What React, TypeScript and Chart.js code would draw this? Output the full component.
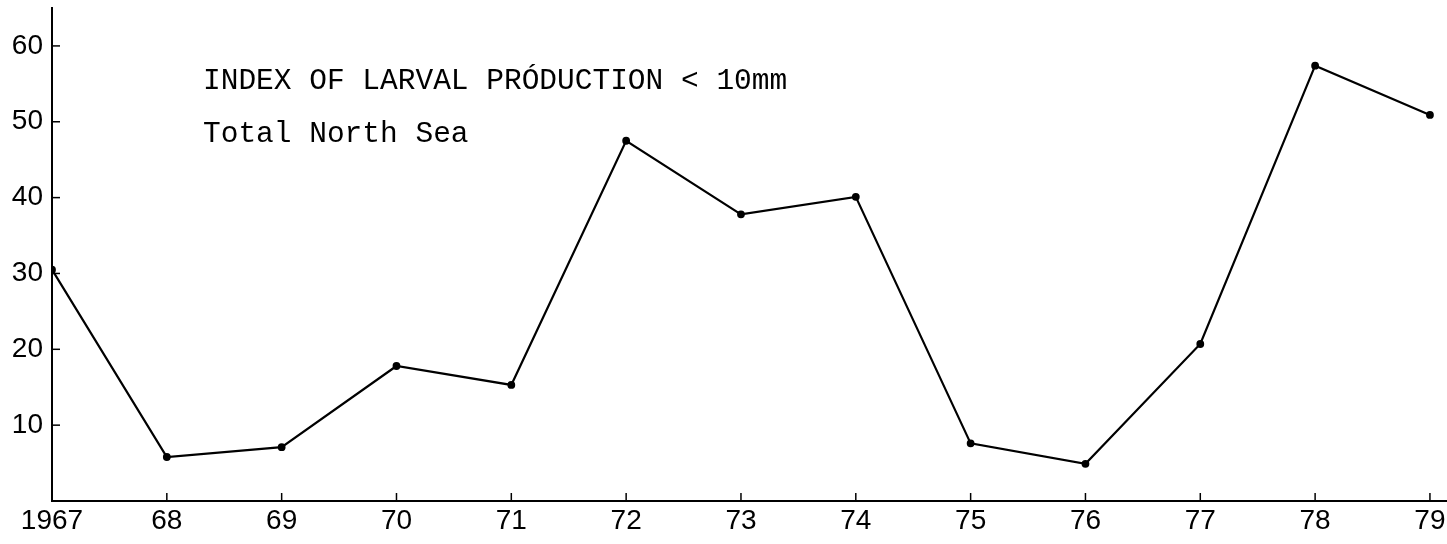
import React, { useEffect, useRef } from "react";
import { Chart, registerables } from "chart.js";

Chart.register(...registerables);

const years = [1967, 1968, 1969, 1970, 1971, 1972, 1973, 1974, 1975, 1976, 1977, 1978, 1979];
const larvalIndex = [30.5, 5.8, 7.1, 17.8, 15.3, 47.5, 37.8, 40.1, 7.6, 4.9, 20.7, 57.4, 50.9];
const xTickLabels = ["1967", "68", "69", "70", "71", "72", "73", "74", "75", "76", "77", "78", "79"];
const yTickValues = [10, 20, 30, 40, 50, 60];
const titleLines = ["INDEX OF LARVAL PRÓDUCTION < 10mm", "Total North Sea"];

const inwardTicks = {
  id: "inwardTicks",
  afterDraw(chart: any) {
    const { ctx, chartArea, scales } = chart;
    ctx.save();
    ctx.strokeStyle = "#000";
    // extend x axis line to the canvas edge
    const by = Math.round(scales.x.top);
    ctx.lineWidth = 2;
    ctx.beginPath();
    ctx.moveTo(chartArea.right - 2, by);
    ctx.lineTo(chart.width, by);
    ctx.stroke();
    ctx.lineWidth = 1.5;
    const y = scales.y;
    y.ticks.forEach((t: any) => {
      const py = y.getPixelForValue(t.value);
      ctx.beginPath();
      ctx.moveTo(chartArea.left, py);
      ctx.lineTo(chartArea.left + 8, py);
      ctx.stroke();
    });
    const x = scales.x;
    x.ticks.forEach((t: any) => {
      const px = x.getPixelForValue(t.value);
      ctx.beginPath();
      ctx.moveTo(px, chartArea.bottom);
      ctx.lineTo(px, chartArea.bottom - 8);
      ctx.stroke();
    });
    // annotation text inside the plot
    ctx.fillStyle = "#000";
    ctx.font = "29.5px 'Liberation Mono', monospace";
    ctx.textBaseline = "alphabetic";
    ctx.textAlign = "left";
    const tx = chartArea.left + 151;
    ctx.fillText(titleLines[0], tx, chartArea.top + 81);
    ctx.fillText(titleLines[1], tx, chartArea.top + 134);
    ctx.restore();
  },
};

export default function App() {
  const ref = useRef<HTMLCanvasElement | null>(null);
  useEffect(() => {
    if (!ref.current) return;
    const tickFont = { family: "'Liberation Sans', sans-serif", size: 28 };
    const chart = new Chart(ref.current, {
      type: "line",
      data: {
        datasets: [
          {
            data: years.map((yr, i) => ({ x: yr, y: larvalIndex[i] })),
            borderColor: "#000",
            backgroundColor: "#000",
            borderWidth: 2.2,
            pointRadius: 2.8,
            pointHoverRadius: 2.8,
            tension: 0,
          },
        ],
      },
      options: {
        animation: false,
        responsive: false,
        maintainAspectRatio: false,
        layout: { padding: { top: 8, right: 0, left: 0, bottom: 0 } },
        plugins: { legend: { display: false }, tooltip: { enabled: false }, title: { display: false } },
        scales: {
          x: {
            type: "linear",
            min: 1967,
            max: 1979.105,
            afterBuildTicks: (axis: any) => {
              axis.ticks = years.map((v) => ({ value: v }));
            },
            afterFit: (axis: any) => {
              axis.height = 43;
              axis.paddingLeft = 0;
              axis.paddingRight = 0;
            },
            grid: { display: false, drawTicks: false },
            border: { display: true, color: "#000", width: 2 },
            ticks: {
              color: "#000",
              font: tickFont,
              padding: 3,
              maxRotation: 0,
              autoSkip: false,
              callback: (v: any) => {
                const i = years.indexOf(Number(v));
                return i >= 0 ? xTickLabels[i] : "";
              },
            },
          },
          y: {
            type: "linear",
            min: 0,
            max: 65,
            afterBuildTicks: (axis: any) => {
              axis.ticks = yTickValues.map((v) => ({ value: v }));
            },
            afterFit: (axis: any) => {
              axis.width = 52;
              axis.paddingTop = 0;
              axis.paddingBottom = 0;
            },
            grid: { display: false, drawTicks: false },
            border: { display: true, color: "#000", width: 2 },
            ticks: { color: "#000", font: tickFont, padding: 9, autoSkip: false },
          },
        },
      },
      plugins: [inwardTicks],
    });
    return () => chart.destroy();
  }, []);
  return (
    <div style={{ position: "fixed", left: 0, top: 0, width: 1447, height: 544, background: "#fff" }}>
      <canvas ref={ref} width={1447} height={544} style={{ width: 1447, height: 544, display: "block" }} />
    </div>
  );
}
